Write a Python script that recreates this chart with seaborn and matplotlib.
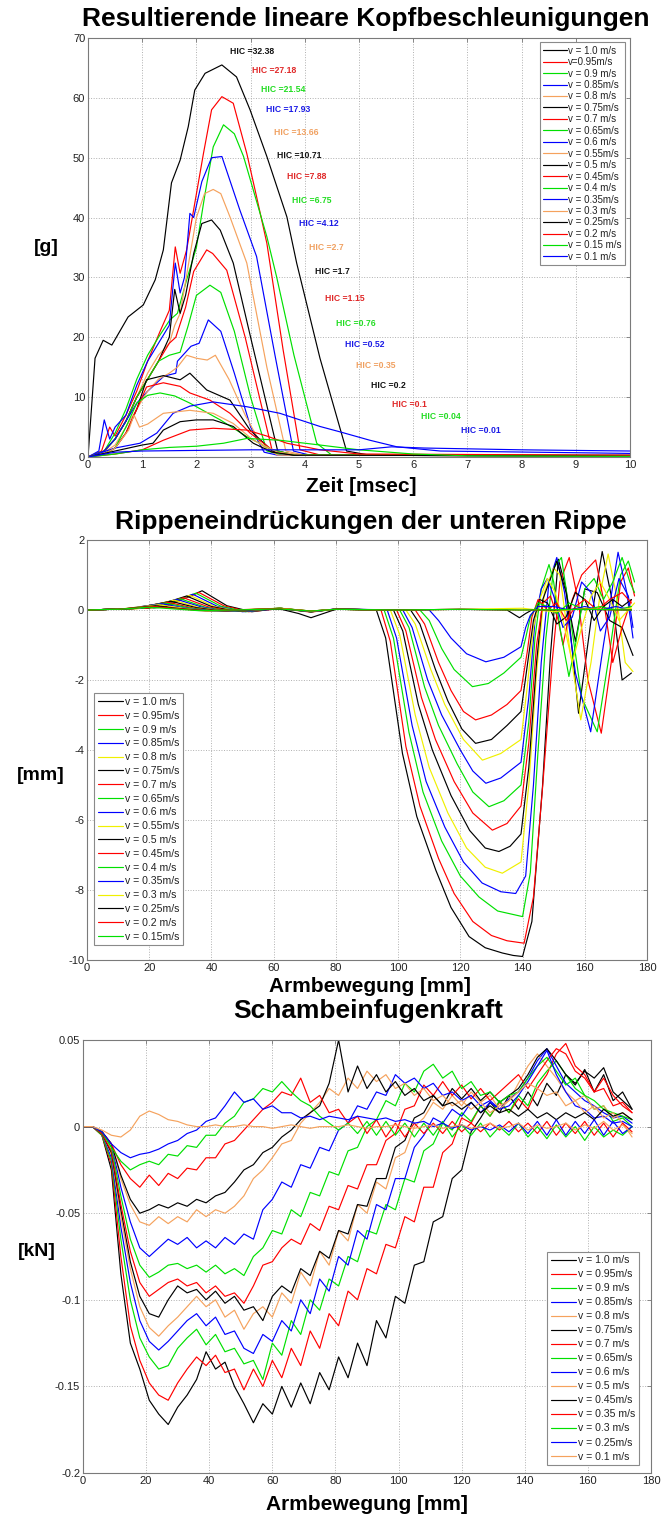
import matplotlib
matplotlib.use('Agg')
import matplotlib.pyplot as plt
import seaborn as sns

sns.set_theme(style='white')
plt.rcParams['font.family'] = ['Liberation Sans', 'DejaVu Sans']
plt.rcParams['axes.unicode_minus'] = False

# ---------------- colours ----------------
K = '#000000'; R = '#FF0000'; G = '#00E000'; B = '#0000FF'; O = '#F5A25D'; Y = '#F0F000'

# ================= DATA: chart 1 (head acceleration) =================
acc_labels = ['v = 1.0 m/s', 'v=0.95m/s', 'v = 0.9 m/s', 'v = 0.85m/s', 'v = 0.8 m/s',
              'v = 0.75m/s', 'v = 0.7 m/s', 'v = 0.65m/s', 'v = 0.6 m/s', 'v = 0.55m/s',
              'v = 0.5 m/s', 'v = 0.45m/s', 'v = 0.4 m/s', 'v = 0.35m/s', 'v = 0.3 m/s',
              'v = 0.25m/s', 'v = 0.2 m/s', 'v = 0.15 m/s', 'v = 0.1 m/s']
hic_values = [32.38, 27.18, 21.54, 17.93, 13.66, 10.71, 7.88, 6.75, 4.12, 2.7,
              1.7, 1.15, 0.76, 0.52, 0.35, 0.2, 0.1, 0.04, 0.01]

acc_t_100 = [0, 0.13, 0.28, 0.44, 0.74, 1.02, 1.24, 1.39, 1.54, 1.70, 1.85, 1.97, 2.16, 2.47, 2.74, 2.99, 3.30, 3.67, 3.85, 4.28, 4.77, 5.2, 10]
acc_g_100 = [0, 16.5, 19.5, 18.7, 23.4, 25.4, 29.6, 34.6, 45.8, 49.6, 55.2, 61.3, 64.1, 65.5, 63.5, 58.0, 50.2, 40.1, 32.4, 16.5, 1.0, 0.3, 0.3]
acc_t_095 = [0, 0.25, 0.4, 0.5, 0.7, 0.9, 1.1, 1.33, 1.5, 1.61, 1.70, 1.82, 1.97, 2.13, 2.28, 2.47, 2.68, 2.93, 3.11, 3.30, 3.60, 3.91, 4.3, 10]
acc_g_095 = [0, 1, 5, 3.5, 7, 11, 16, 21, 24.5, 35.1, 30.7, 34.6, 42.4, 50.7, 58, 60.2, 59.1, 50.7, 43.5, 35.7, 17.9, 1.2, 0.3, 0.2]
acc_t_090 = [0, 0.3, 0.5, 0.7, 0.9, 1.1, 1.3, 1.51, 1.65, 1.82, 2.0, 2.16, 2.31, 2.50, 2.70, 2.87, 3.05, 3.30, 3.48, 3.80, 4.22, 4.5, 10]
acc_g_090 = [0, 1, 4, 8, 13, 17, 20, 22.9, 24, 29.6, 35, 44, 51.8, 55.5, 54, 50.2, 44.6, 36.8, 30.1, 17, 2.3, 0.3, 0.2]
acc_t_085 = [0, 0.2, 0.3, 0.4, 0.5, 0.7, 0.9, 1.1, 1.3, 1.5, 1.61, 1.70, 1.78, 1.88, 1.95, 2.1, 2.28, 2.47, 2.80, 3.11, 3.45, 3.79, 4.1, 10]
acc_g_085 = [0, 1, 6.2, 3, 5, 7, 12, 16, 19, 22, 32.4, 27.4, 30, 40.7, 40, 46, 50, 50.2, 41.3, 33.5, 17, 1, 0.3, 0.2]
acc_t_080 = [0, 0.3, 0.5, 0.7, 0.9, 1.1, 1.3, 1.5, 1.6, 1.7, 1.85, 2.0, 2.15, 2.31, 2.45, 2.62, 2.93, 3.3, 3.65, 4.0, 10]
acc_g_080 = [0, 1, 3, 6, 10, 14, 17, 19, 22, 24, 32, 40, 44, 44.7, 44, 40.1, 32.4, 15, 1, 0.3, 0.2]
acc_t_075 = [0, 0.3, 0.5, 0.7, 0.9, 1.1, 1.3, 1.5, 1.6, 1.7, 1.8, 1.95, 2.1, 2.28, 2.44, 2.68, 3.0, 3.5, 3.8, 10]
acc_g_075 = [0, 1, 3, 6, 10, 13, 16, 20, 28, 24, 27, 34, 39, 39.6, 37.9, 32.4, 20, 1, 0.3, 0.2]
acc_t_070 = [0, 0.3, 0.5, 0.7, 0.9, 1.1, 1.3, 1.5, 1.62, 1.8, 1.95, 2.19, 2.3, 2.56, 2.9, 3.4, 3.7, 10]
acc_g_070 = [0, 1, 3, 6, 10, 13, 16, 19, 20, 25, 31, 34.6, 34, 31.2, 20, 1, 0.3, 0.2]
acc_t_065 = [0, 0.3, 0.5, 0.7, 0.9, 1.1, 1.3, 1.5, 1.7, 1.85, 2.0, 2.25, 2.45, 2.7, 3.0, 3.3, 3.6, 10]
acc_g_065 = [0, 1, 3, 6, 10, 13, 16, 17, 17.5, 22, 27, 28.7, 27.5, 21, 10, 1, 0.3, 0.2]
acc_t_060 = [0, 0.3, 0.5, 0.7, 0.9, 1.1, 1.4, 1.62, 1.65, 1.75, 1.9, 2.05, 2.22, 2.45, 2.7, 3.0, 3.25, 3.5, 10]
acc_g_060 = [0, 1, 3, 6, 9, 11, 13.5, 14, 16, 17, 18.5, 19, 22.9, 21, 14, 5, 0.8, 0.3, 0.2]
acc_t_055 = [0, 0.3, 0.5, 0.7, 0.9, 1.1, 1.3, 1.5, 1.65, 1.82, 2.0, 2.2, 2.35, 2.6, 2.9, 3.2, 3.5, 10]
acc_g_055 = [0, 0.8, 2, 5, 8, 11, 13, 14, 15, 17, 16.5, 16.2, 17, 13, 7, 2, 0.3, 0.2]
acc_t_050 = [0, 0.3, 0.5, 0.7, 0.9, 1.08, 1.39, 1.70, 1.88, 2.19, 2.62, 2.99, 3.4, 3.8, 10]
acc_g_050 = [0, 0.5, 1.5, 4, 8, 12.9, 13.6, 12.9, 14.0, 11.2, 9.5, 4.5, 1, 0.3, 0.2]
acc_t_045 = [0, 0.3, 0.5, 0.7, 0.9, 1.08, 1.39, 1.7, 1.88, 2.25, 2.62, 2.99, 3.4, 3.8, 10]
acc_g_045 = [0, 0.5, 1.5, 4, 8, 11.7, 12.4, 11.8, 10.7, 9.5, 7.3, 4.0, 1.2, 0.4, 0.2]
acc_t_040 = [0, 0.3, 0.5, 0.7, 0.9, 1.1, 1.33, 1.6, 1.88, 2.44, 2.93, 3.4, 3.8, 10]
acc_g_040 = [0, 0.5, 1.5, 5, 9.0, 10.3, 10.7, 10.2, 9.0, 6.2, 3.4, 1.2, 0.4, 0.2]
acc_t_035 = [0, 0.5, 0.96, 1.27, 1.57, 1.88, 2.31, 2.93, 3.54, 4.28, 4.65, 5.2, 5.7, 6.5, 10]
acc_g_035 = [0, 1.5, 2.3, 4.0, 7.3, 8.5, 9.2, 8.4, 7.3, 5.1, 4.2, 2.8, 1.7, 1.0, 0.6]
acc_t_030 = [0, 0.3, 0.5, 0.75, 0.85, 0.95, 1.1, 1.39, 1.88, 2.31, 2.68, 3.05, 3.5, 4.0, 10]
acc_g_030 = [0, 0.5, 1.5, 4.5, 7, 5, 5.5, 7.3, 7.8, 7.3, 5.6, 2.8, 0.8, 0.3, 0.2]
acc_t_025 = [0, 0.5, 1.0, 1.2, 1.39, 1.7, 2.0, 2.31, 2.68, 3.05, 3.4, 3.8, 10]
acc_g_025 = [0, 1, 2, 2.3, 4.5, 5.9, 6.2, 6.2, 5.1, 2.3, 0.8, 0.3, 0.2]
acc_t_020 = [0, 0.5, 1.0, 1.39, 1.88, 2.31, 2.93, 3.3, 3.67, 4.28, 5.0, 10]
acc_g_020 = [0, 0.5, 1.2, 2.8, 4.5, 4.8, 4.5, 3.5, 2.3, 1.2, 0.5, 0.3]
acc_t_015 = [0, 0.5, 1.0, 1.5, 2.0, 2.5, 2.93, 3.54, 4.28, 5.0, 6.0, 7.0, 10]
acc_g_015 = [0, 0.5, 1.2, 1.6, 1.8, 2.3, 3.1, 2.8, 2.0, 1.2, 0.5, 0.2, 0.1]
acc_t_010 = [0, 0.5, 1.0, 2.0, 3.0, 5.0, 5.6, 6.2, 8, 10]
acc_g_010 = [0, 0.8, 1.0, 1.1, 1.2, 1.2, 1.7, 1.5, 1.2, 1.0]

# ================= DATA: chart 2 (rib deflection) =================
rib_labels = ['v = 1.0 m/s', 'v = 0.95m/s', 'v = 0.9 m/s', 'v = 0.85m/s', 'v = 0.8 m/s',
              'v = 0.75m/s', 'v = 0.7 m/s', 'v = 0.65m/s', 'v = 0.6 m/s', 'v = 0.55m/s',
              'v = 0.5 m/s', 'v = 0.45m/s', 'v = 0.4 m/s', 'v = 0.35m/s', 'v = 0.3 m/s',
              'v = 0.25m/s', 'v = 0.2 m/s', 'v = 0.15m/s']

rib_x_100 = [0, 8, 25, 37, 45, 53, 62, 72, 80, 93, 96, 101.4, 106, 112.1, 117, 122.8, 128, 133.5, 137, 140, 143, 146.4, 149, 151.5, 154, 158, 162, 165.6, 169, 172, 175]
rib_y_100 = [0, 0.02, 0.08, 0.55, 0.12, -0.05, 0.05, -0.05, 0.03, 0, -0.8, -4.1, -5.9, -7.43, -8.5, -9.33, -9.65, -9.8, -9.87, -9.9, -8.9, -5.05, -1.24, 1.45, 0.6, -2.95, -0.3, 1.67, 0.2, -2.0, -1.8]
rib_x_095 = [0, 8, 24, 36, 44, 52, 62, 72, 80, 94.5, 97.5, 102.5, 107, 113, 118, 124, 130, 135, 140.5, 143.5, 146.5, 149.5, 152, 155, 158, 161, 165.3, 168.5, 171.5, 174, 176]
rib_y_095 = [0, 0.02, 0.08, 0.5, 0.12, -0.05, 0.04, -0.06, 0.03, 0, -0.9, -3.9, -5.6, -7.1, -8.1, -8.9, -9.3, -9.45, -9.52, -8.2, -5.0, -1.5, 0.8, 1.5, 0.2, -2.0, -3.52, -1.5, 0.8, 1.2, 0.4]
rib_x_090 = [0, 8, 23, 35, 43, 51, 62, 72, 80, 95.5, 98.5, 103.5, 108, 114, 120, 126, 132, 140, 142.5, 145, 147.5, 150, 152.5, 155, 159, 164, 168, 171.5, 174, 176]
rib_y_090 = [0, 0.02, 0.07, 0.48, 0.11, -0.05, 0.05, -0.04, 0.02, 0, -0.8, -3.5, -5.2, -6.6, -7.6, -8.2, -8.6, -8.76, -7.5, -4.0, -0.8, 1.2, 1.5, 0.0, -2.5, -3.48, -1.2, 1.0, 1.4, 0.8]
rib_x_085 = [0, 8, 22, 34, 42, 50, 62, 72, 80, 96.5, 99.5, 104.5, 109, 115, 121, 127, 133, 137.8, 141, 143.5, 146, 148.5, 151, 153.5, 157, 161.9, 166, 170.7, 173.5, 175.5]
rib_y_085 = [0, 0.02, 0.07, 0.45, 0.1, -0.05, 0.04, -0.05, 0.03, 0, -0.8, -3.3, -4.9, -6.2, -7.2, -7.8, -8.05, -8.1, -7.6, -5.0, -1.5, 0.8, 1.5, 0.5, -1.8, -3.48, -1.0, 1.65, 0.5, -0.8]
rib_x_080 = [0, 8, 21, 33, 41, 49, 62, 72, 80, 97.5, 100.5, 105.5, 110, 116, 122, 128, 133.5, 139.5, 142, 144.5, 147, 150, 152, 155, 158.7, 162, 165, 167.5, 170, 173, 175.5]
rib_y_080 = [0, 0.02, 0.06, 0.42, 0.1, -0.04, 0.05, -0.04, 0.02, 0, -0.7, -3.0, -4.5, -5.8, -6.8, -7.35, -7.52, -7.2, -5.0, -1.8, 0.5, 1.2, 1.0, -1.0, -3.14, -1.5, 0.5, 1.6, 0.5, -1.5, -1.76]
rib_x_075 = [0, 8, 20, 32, 40, 48, 62, 72, 80, 98.5, 101.5, 106.5, 111, 117, 123, 128, 132.4, 136, 139.5, 142, 144.5, 146.5, 149, 151, 154, 157, 160, 164, 168, 172, 175.5]
rib_y_075 = [0, 0.02, 0.06, 0.4, 0.1, -0.04, 0.04, -0.05, 0.02, 0, -0.6, -2.7, -4.0, -5.3, -6.3, -6.8, -6.9, -6.75, -6.4, -4.5, -1.5, 0.3, 0.9, 1.4, 0.5, -0.9, 0.6, 0.5, -0.3, -0.5, -1.3]
rib_x_070 = [0, 8, 19, 31, 39, 47, 62, 72, 80, 99.5, 102.5, 107.5, 112, 118, 124, 130.3, 135, 139.5, 142, 144.5, 146.5, 149, 151.5, 153, 156, 159, 163.5, 166, 169, 172, 175]
rib_y_070 = [0, 0.02, 0.05, 0.35, 0.09, -0.04, 0.05, -0.04, 0.02, 0, -0.6, -2.5, -3.7, -4.9, -5.8, -6.29, -6.1, -5.6, -3.8, -1.0, 0.2, 0.4, -0.3, -1.0, 0.3, 1.0, 1.43, 0.3, -1.5, -0.5, 0.3]
rib_x_065 = [0, 8, 18, 30, 38, 46, 62, 72, 80, 100.5, 103.5, 108.5, 113, 119, 124, 129.2, 134, 139.5, 142, 144, 146, 148.5, 150, 152, 154.9, 157, 160, 163, 166, 169, 172, 174.5, 176]
rib_y_065 = [0, 0.02, 0.05, 0.32, 0.08, -0.04, 0.04, -0.05, 0.02, 0, -0.5, -2.2, -3.3, -4.4, -5.2, -5.62, -5.45, -5.0, -3.2, -0.8, 0.6, 1.3, 0.8, -0.5, -1.9, -1.0, 0.6, 0.9, 0.3, 0.8, 1.5, 0.8, 0.5]
rib_x_060 = [0, 8, 17, 29, 37, 45, 62, 72, 80, 101.5, 104.5, 109.5, 114, 120, 124, 128.2, 133, 139.5, 142, 144, 146, 148, 150, 153, 156, 159, 162, 165, 168, 171, 174, 175.5]
rib_y_060 = [0, 0.02, 0.05, 0.3, 0.08, -0.04, 0.05, -0.04, 0.02, 0, -0.5, -2.0, -3.0, -4.0, -4.6, -4.95, -4.8, -4.35, -2.5, -0.3, 0.6, 0.9, 0.4, -0.5, -0.2, 0.8, 0.5, -0.6, -0.2, 0.9, 0.4, -0.5]
rib_x_055 = [0, 8, 16, 28, 36, 44, 62, 72, 80, 102.5, 105.5, 110.5, 115, 121, 127.1, 133, 139.5, 141.5, 143.5, 145.5, 148, 150.5, 153, 156, 159, 162, 165, 168, 171, 174, 176]
rib_y_055 = [0, 0.02, 0.04, 0.28, 0.07, -0.03, 0.04, -0.04, 0.02, 0, -0.4, -1.7, -2.7, -3.7, -4.29, -4.1, -3.7, -2.2, -0.5, 0.3, 0.9, 0.5, -0.3, -1.5, -0.5, 0.4, 0.8, 0.3, -0.3, 0, 0.2]
rib_x_050 = [0, 8, 15, 27, 35, 43, 62, 72, 80, 104, 107, 112, 116, 120.5, 124.9, 130, 135, 139.5, 141.5, 143.5, 145.5, 148, 151, 154, 157, 160, 163, 166, 169, 172, 175]
rib_y_050 = [0, 0.02, 0.04, 0.25, 0.07, -0.03, 0.05, -0.03, 0.02, 0, -0.4, -1.7, -2.6, -3.4, -3.81, -3.7, -3.3, -2.9, -1.6, -0.3, 0.3, 0.2, -0.4, -0.2, 0.5, 0.3, -0.3, 0.1, 0.3, 0.1, 0.3]
rib_x_045 = [0, 8, 14, 26, 34, 42, 62, 72, 80, 105.5, 108.5, 113, 117, 121, 124.9, 130, 135, 139.5, 141.5, 143, 145, 148, 151, 154, 157, 160, 164, 168, 172, 175]
rib_y_045 = [0, 0.02, 0.04, 0.22, 0.06, -0.03, 0.04, -0.04, 0.02, 0, -0.4, -1.5, -2.3, -2.9, -3.14, -3.0, -2.7, -2.3, -1.2, -0.2, 0.3, 0, 0.2, -0.3, 0.1, 0.3, 0, 0.3, 0.5, 0.2]
rib_x_040 = [0, 8, 13, 25, 33, 41, 62, 72, 80, 107, 110, 114, 118, 123.9, 129, 134, 139.5, 141, 142.5, 145, 148, 151, 155, 160, 165, 170, 175]
rib_y_040 = [0, 0.02, 0.03, 0.2, 0.06, -0.03, 0.05, -0.03, 0.02, 0, -0.3, -1.1, -1.7, -2.19, -2.1, -1.8, -1.35, -0.8, -0.2, 0.2, 0.1, -0.1, 0.2, 0, 0.1, 0, 0.1]
rib_x_035 = [0, 8, 12, 24, 32, 40, 62, 72, 80, 110, 113, 117, 122, 128.2, 134, 139.5, 141, 142.5, 145, 150, 155, 160, 165, 170, 175]
rib_y_035 = [0, 0.02, 0.03, 0.18, 0.05, -0.03, 0.04, -0.04, 0.02, 0, -0.3, -0.8, -1.25, -1.48, -1.35, -1.05, -0.5, -0.15, 0.1, 0.1, 0, 0.1, 0, 0.1, 0]
rib_x_030 = [0, 8, 11, 23, 31, 39, 62, 72, 80, 100, 120, 140, 150, 160, 170, 175]
rib_y_030 = [0, 0.02, 0.03, 0.15, 0.05, -0.03, 0.05, -0.03, 0.02, 0, 0.02, 0.05, -0.05, 0.05, 0, 0.05]
rib_x_025 = [0, 8, 10, 22, 30, 38, 62, 68, 72, 76, 80, 100, 120, 135, 139, 141, 143, 160, 175]
rib_y_025 = [0, 0.02, 0.02, 0.12, 0.04, -0.02, 0.03, -0.1, -0.22, -0.1, 0.02, 0, 0.02, 0, -0.22, -0.1, 0, 0.02, 0]
rib_x_020 = [0, 8, 10, 21, 29, 37, 62, 72, 80, 100, 120, 140, 160, 175]
rib_y_020 = [0, 0.02, 0.02, 0.1, 0.04, -0.02, 0.04, -0.03, 0.02, 0, 0.02, 0, 0.02, 0]
rib_x_015 = [0, 8, 10, 20, 28, 36, 62, 72, 80, 100, 120, 140, 160, 175]
rib_y_015 = [0, 0.02, 0.02, 0.08, 0.03, -0.02, 0.03, -0.03, 0.02, 0, 0.02, 0, 0.02, 0]

# ================= DATA: chart 3 (pubic symphysis force, 1e-3 kN) =================
pub_labels = ['v = 1.0 m/s', 'v = 0.95m/s', 'v = 0.9 m/s', 'v = 0.85m/s', 'v = 0.8 m/s',
              'v = 0.75m/s', 'v = 0.7 m/s', 'v = 0.65m/s', 'v = 0.6 m/s', 'v = 0.5 m/s',
              'v = 0.45m/s', 'v = 0.35 m/s', 'v = 0.3 m/s', 'v = 0.25m/s', 'v = 0.1 m/s']
arm_mm = [0, 3, 6, 9, 12, 15, 18, 21, 24, 27, 30, 33, 36, 39, 42, 45, 48, 51, 54, 57,
          60, 63, 66, 69, 72, 75, 78, 81, 84, 87, 90, 93, 96, 99, 102, 105, 108, 111, 114, 117,
          120, 123, 126, 129, 132, 135, 138, 141, 144, 147, 150, 153, 156, 159, 162, 165, 168, 171, 174]
pub_100 = [0, 0, -5, -25, -85, -125, -140, -158, -166, -172, -162, -155, -146, -130, -140, -136, -150, -160, -171, -160,
           -166, -150, -162, -148, -160, -142, -152, -133, -145, -125, -138, -112, -122, -98, -102, -80, -78, -55, -52, -30,
           -25, -3, 5, 14, 8, 18, 10, 20, 12, 25, 18, 30, 24, 33, 20, 30, 15, 20, 10]
pub_095 = [0, 0, -5, -22, -75, -115, -135, -148, -155, -158, -148, -140, -133, -138, -132, -142, -140, -152, -140, -150,
           -135, -145, -128, -138, -118, -128, -108, -115, -95, -100, -82, -85, -68, -70, -52, -55, -35, -35, -15, -10,
           5, 2, 12, 6, 14, 8, 16, 10, 22, 30, 42, 48, 35, 30, 20, 28, 18, 12, 8]
pub_090 = [0, 0, -5, -20, -65, -100, -122, -133, -140, -138, -128, -122, -117, -126, -120, -130, -128, -137, -135, -146,
           -125, -132, -112, -120, -100, -106, -88, -92, -75, -78, -60, -62, -45, -48, -30, -32, -14, -10, 2, -2,
           8, 3, 12, 6, 15, 8, 18, 12, 25, 32, 38, 30, 22, 18, 10, 12, 3, 5, 0]
pub_085 = [0, 0, -4, -18, -58, -90, -112, -124, -129, -124, -118, -112, -108, -115, -110, -120, -118, -128, -131, -120,
           -124, -112, -118, -100, -108, -88, -95, -75, -80, -60, -65, -45, -48, -30, -30, -12, -5, 5, 2, 10,
           6, 14, 8, 14, 10, 16, 20, 28, 38, 45, 35, 25, 20, 15, 12, 8, 5, 6, 2]
pub_080 = [0, 0, -4, -16, -52, -82, -104, -116, -121, -115, -110, -104, -98, -104, -100, -110, -106, -117, -108, -104,
           -110, -96, -102, -84, -92, -72, -80, -60, -66, -45, -50, -32, -36, -18, -15, 0, 5, 14, 10, 18,
           12, 20, 14, 18, 10, 15, 25, 35, 42, 35, 28, 20, 15, 18, 10, 12, 5, 8, 4]
pub_075 = [0, 0, -4, -15, -48, -78, -98, -108, -110, -100, -92, -96, -94, -100, -95, -102, -98, -106, -104, -112,
           -98, -92, -96, -82, -86, -72, -76, -60, -62, -45, -46, -30, -30, -12, -8, 5, 8, 18, 12, 22,
           16, 22, 15, 20, 14, 18, 22, 30, 40, 45, 38, 30, 25, 32, 28, 34, 20, 15, 10]
pub_070 = [0, 0, -4, -14, -45, -72, -90, -98, -94, -90, -88, -92, -90, -96, -92, -98, -96, -102, -92, -80,
           -78, -70, -65, -68, -56, -60, -46, -48, -34, -36, -22, -22, -8, -4, 10, 12, 24, 18, 26, 18,
           24, 16, 22, 15, 20, 25, 30, 22, 30, 38, 45, 42, 32, 28, 20, 22, 12, 14, 8]
pub_065 = [0, 0, -3, -12, -40, -65, -80, -87, -84, -80, -79, -82, -80, -84, -80, -85, -82, -86, -75, -70,
           -60, -62, -48, -52, -38, -40, -26, -28, -14, -12, 0, 4, 15, 12, 25, 20, 32, 36, 28, 32,
           22, 26, 18, 20, 14, 18, 20, 28, 35, 40, 32, 24, 28, 18, 15, 10, 8, 6, 4]
pub_060 = [0, 0, -3, -10, -35, -55, -70, -75, -70, -65, -68, -64, -70, -66, -70, -64, -68, -62, -65, -48,
           -42, -32, -35, -22, -24, -12, -14, -2, 2, 12, 10, 20, 18, 30, 25, 28, 22, 25, 18, 20,
           15, 18, 12, 15, 10, 12, 18, 26, 35, 44, 30, 20, 12, 10, 5, 6, 2, 3, 0]
pub_050 = [0, 0, -3, -10, -30, -45, -55, -57, -52, -56, -52, -55, -48, -52, -48, -50, -46, -40, -30, -25,
           -18, -10, -8, 2, 8, 14, 22, 18, 28, 22, 32, 26, 30, 22, 25, 18, 22, 15, 18, 12,
           15, 10, 14, 8, 12, 15, 20, 25, 22, 18, 20, 12, 15, 8, 12, 5, 8, 2, -6]
pub_045 = [0, 0, -3, -10, -28, -42, -50, -48, -45, -47, -44, -46, -42, -44, -40, -38, -32, -25, -22, -15,
           -12, -6, -2, 4, 8, 12, 25, 50, 20, 35, 22, 30, 20, 26, 18, 22, 15, 18, 12, 14,
           10, 14, 8, 12, 8, 10, 6, 10, 5, 8, 4, 8, 5, 8, 4, 10, 6, 8, 4]
pub_035 = [0, 0, -3, -10, -22, -30, -35, -28, -34, -27, -30, -24, -25, -18, -18, -10, -8, -2, 4, 10,
           14, 20, 18, 28, 14, 18, 8, 10, 2, 6, -4, 4, -6, 2, -6, 2, -4, 2, -4, 3,
           -3, 2, -3, 2, -2, 3, -3, 2, -4, 3, -5, 2, -4, 3, -5, 2, -6, 2, -3]
pub_030 = [0, 0, -3, -12, -20, -25, -22, -20, -22, -16, -17, -11, -12, -5, -5, 2, 6, 14, 16, 22,
           20, 26, 20, 15, 12, 6, 2, -2, 2, -4, 3, -5, 3, -5, 2, -6, 2, -5, 3, -6,
           1, -5, 2, -6, 0, -5, 2, -6, 0, -7, 1, -6, 0, -8, 0, -6, -2, -5, 0]
pub_025 = [0, 0, -3, -10, -15, -18, -16, -15, -13, -10, -8, -4, -2, 3, 5, 12, 20, 14, 16, 10,
           12, 8, 8, 5, 6, 4, 6, 5, 4, 6, 5, 4, 5, 3, 4, 2, 3, 0, 2, -1,
           1, -2, 0, -2, 1, -3, 2, -4, 3, -5, 4, -5, 3, -4, 4, -5, 3, -4, 0]
pub_010 = [0, 0, -2, -5, -6, -2, 6, 9, 7, 4, 3, 1, 0, 0, 1, 0, 0, 1, 0, 0,
           -1, 0, 1, 0, -1, 0, 0, 0, 1, 0, -1, 0, 0, 1, 0, -1, 0, 1, -1, 0,
           1, -1, 0, 2, -1, 0, 2, -2, 1, -1, 0, 2, -2, 1, -1, 3, -2, 1, -4]

# ---------------- assemble ----------------
acc_curves = [(acc_t_100, acc_g_100), (acc_t_095, acc_g_095), (acc_t_090, acc_g_090), (acc_t_085, acc_g_085),
              (acc_t_080, acc_g_080), (acc_t_075, acc_g_075), (acc_t_070, acc_g_070), (acc_t_065, acc_g_065),
              (acc_t_060, acc_g_060), (acc_t_055, acc_g_055), (acc_t_050, acc_g_050), (acc_t_045, acc_g_045),
              (acc_t_040, acc_g_040), (acc_t_035, acc_g_035), (acc_t_030, acc_g_030), (acc_t_025, acc_g_025),
              (acc_t_020, acc_g_020), (acc_t_015, acc_g_015), (acc_t_010, acc_g_010)]
rib_curves = [(rib_x_100, rib_y_100), (rib_x_095, rib_y_095), (rib_x_090, rib_y_090), (rib_x_085, rib_y_085),
              (rib_x_080, rib_y_080), (rib_x_075, rib_y_075), (rib_x_070, rib_y_070), (rib_x_065, rib_y_065),
              (rib_x_060, rib_y_060), (rib_x_055, rib_y_055), (rib_x_050, rib_y_050), (rib_x_045, rib_y_045),
              (rib_x_040, rib_y_040), (rib_x_035, rib_y_035), (rib_x_030, rib_y_030), (rib_x_025, rib_y_025),
              (rib_x_020, rib_y_020), (rib_x_015, rib_y_015)]
pub_curves = [pub_100, pub_095, pub_090, pub_085, pub_080, pub_075, pub_070, pub_065,
              pub_060, pub_050, pub_045, pub_035, pub_030, pub_025, pub_010]

cyc_top = [K, R, G, B, O]
cyc_mid = [K, R, G, B, Y]

# HIC label placement (layout, data coordinates)
hic_pos = [(2.62, 67.8), (3.03, 64.5), (3.19, 61.4), (3.28, 58.1), (3.43, 54.2), (3.48, 50.3),
           (3.67, 46.8), (3.76, 42.8), (3.90, 39.0), (4.08, 35.0), (4.19, 31.0), (4.37, 26.5),
           (4.58, 22.3), (4.74, 18.8), (4.94, 15.3), (5.22, 12.0), (5.60, 8.8), (6.14, 6.7), (6.88, 4.5)]
hic_cols = ['#111111', '#E02828', '#22DD22', '#1A1AE6', '#F0A060']

W, H = 661, 1519
fig = plt.figure(figsize=(W / 100, H / 100), dpi=100)


def axes_px(x0, x1, y0, y1):
    return fig.add_axes([x0 / W, 1 - y1 / H, (x1 - x0) / W, (y1 - y0) / H])


def style(ax):
    ax.set_facecolor('white')
    for s in ax.spines.values():
        s.set_color('#7a7a7a')
        s.set_linewidth(0.8)
    ax.grid(True, linestyle=':', color='#b0b0b0', linewidth=0.7)
    ax.tick_params(direction='in', top=True, right=True, length=3, width=0.6,
                   color='#777777', labelsize=8, labelcolor='#222222', pad=2)
    ax.set_xlabel('')
    ax.set_ylabel('')


def draw(ax, xs, ys, color):
    sns.lineplot(x=xs, y=ys, color=color, ax=ax, estimator=None, sort=False,
                 linewidth=0.85, legend=False)
    return ax.lines[-1]


def legend(ax, handles, labels, loc, anchor, fs, spacing):
    lg = ax.legend(handles, labels, loc=loc, bbox_to_anchor=anchor, fontsize=fs,
                   frameon=True, fancybox=False, framealpha=1, edgecolor='#8a8a8a',
                   handlelength=2.4, handletextpad=0.15, labelspacing=spacing,
                   borderpad=0.35, borderaxespad=0)
    lg.get_frame().set_linewidth(0.8)
    for t in lg.get_texts():
        t.set_color('#222222')


# ---------------- chart 1 ----------------
ax1 = axes_px(88, 630, 38, 457)
hs = []
for i, (tx, gy) in enumerate(acc_curves):
    hs.append(draw(ax1, tx, gy, cyc_top[i % 5]))
style(ax1)
ax1.set_xlim(0, 10)
ax1.set_ylim(0, 70)
ax1.set_xticks(range(0, 11))
ax1.set_yticks(range(0, 71, 10))
for i, (val, (px, py)) in enumerate(zip(hic_values, hic_pos)):
    ax1.text(px, py, f'HIC ={val:g}', fontsize=6.2, fontweight='bold',
             color=hic_cols[i % 5], ha='left', va='center')
legend(ax1, hs, acc_labels, 'upper right', (0.991, 0.99), 7.0, 0.15)

# ---------------- chart 2 ----------------
ax2 = axes_px(87, 647, 540, 960)
hs = []
for i, (xx, yy) in enumerate(rib_curves):
    hs.append(draw(ax2, xx, yy, cyc_mid[i % 5]))
style(ax2)
ax2.set_xlim(0, 180)
ax2.set_ylim(-10, 2)
ax2.set_xticks(range(0, 181, 20))
ax2.set_yticks(range(-10, 3, 2))
legend(ax2, hs, rib_labels, 'lower left', (0.013, 0.035), 7.6, 0.36)

# ---------------- chart 3 ----------------
ax3 = axes_px(83, 651, 1040, 1473)
hs = []
for i, yy in enumerate(pub_curves):
    hs.append(draw(ax3, arm_mm, [v / 1000 for v in yy], cyc_top[i % 5]))
style(ax3)
ax3.set_xlim(0, 180)
ax3.set_ylim(-0.2, 0.05)
ax3.set_xticks(range(0, 181, 20))
ax3.set_yticks([-0.2, -0.15, -0.1, -0.05, 0, 0.05])
ax3.set_yticklabels(['-0.2', '-0.15', '-0.1', '-0.05', '0', '0.05'])
legend(ax3, hs, pub_labels, 'lower right', (0.978, 0.018), 7.6, 0.38)

# ---------------- texts ----------------
def ftxt(x, y, s, size):
    fig.text(x / W, 1 - y / H, s, fontsize=size, fontweight='bold', ha='center', va='center', color='black')

ftxt(366, 19, 'Resultierende lineare Kopfbeschleunigungen', 19)
ftxt(361, 486, 'Zeit [msec]', 15)
ftxt(46, 248, '[g]', 14)
ftxt(371, 522, 'Rippeneindrückungen der unteren Rippe', 19)
ftxt(370, 986, 'Armbewegung [mm]', 15)
ftxt(41, 776, '[mm]', 14)
ftxt(368, 1011, 'Schambeinfugenkraft', 19)
ftxt(367, 1504, 'Armbewegung [mm]', 15)
ftxt(37, 1251, '[kN]', 14)

fig.savefig('out.png', dpi=100)
